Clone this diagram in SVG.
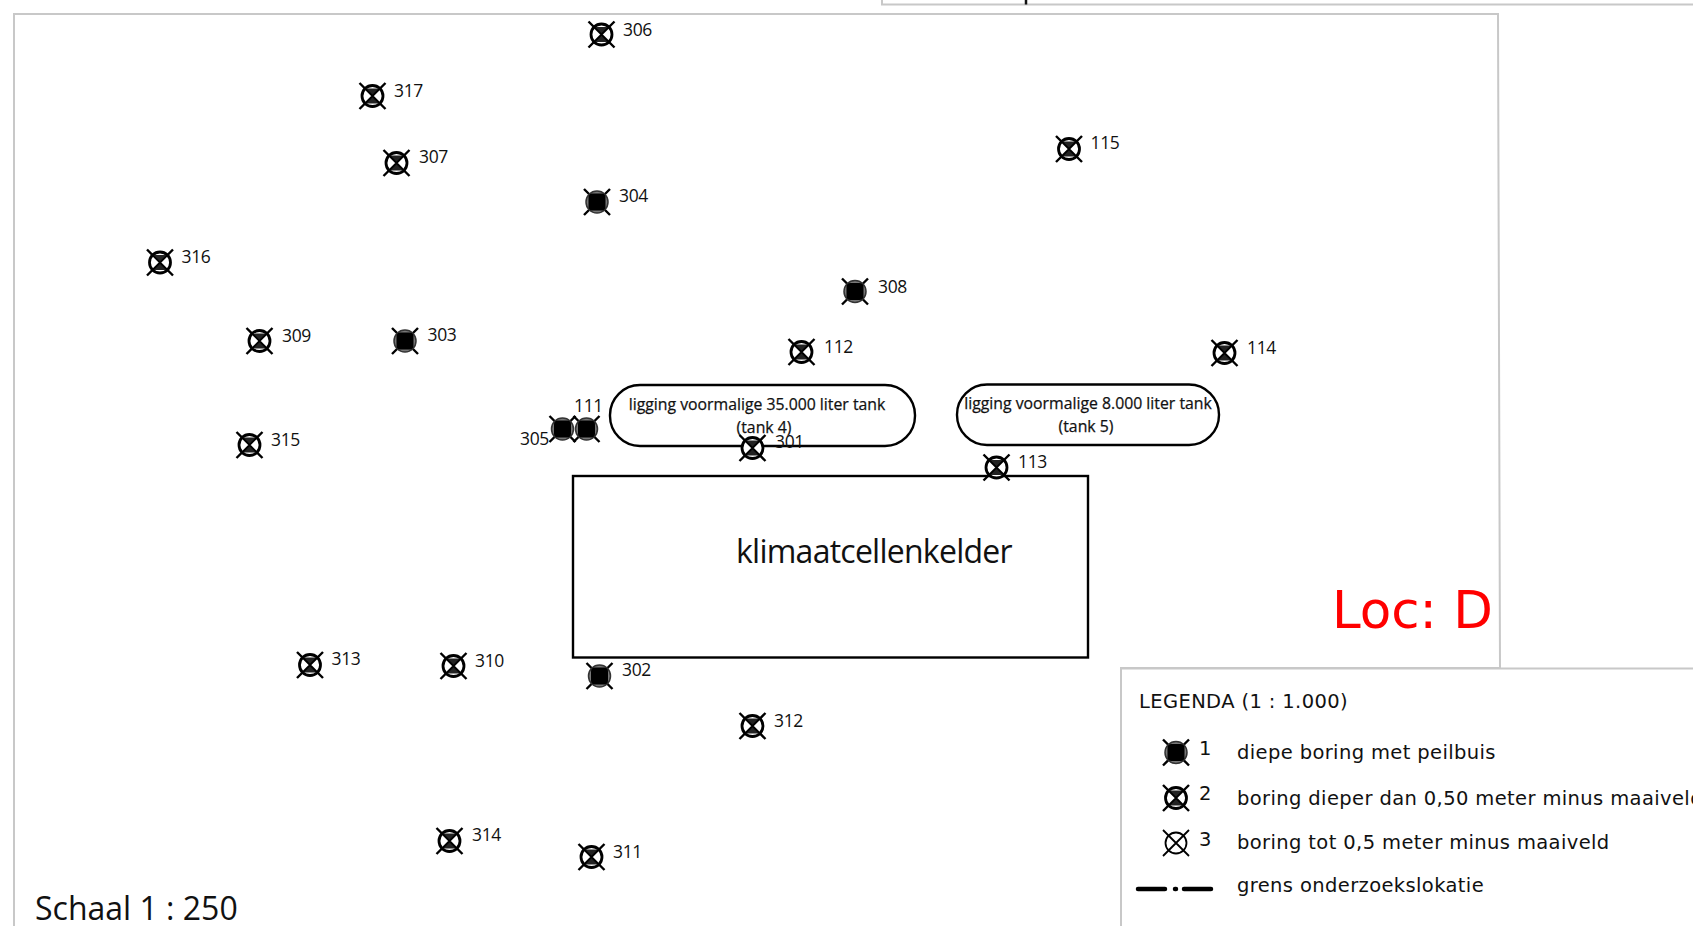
<svg xmlns="http://www.w3.org/2000/svg" width="1693" height="926" viewBox="0 0 1693 926">
<style>
text{font-family:"Open Sans","Noto Sans","Liberation Sans",sans-serif;fill:#111}
.lb{font-size:17.500px;letter-spacing:-.35px}
.tk{font-size:15.800px;text-anchor:middle;stroke:#111;stroke-width:.25}
.lg{letter-spacing:.38px;font-family:"DejaVu Sans",sans-serif;font-size:19.500px}
.fr{fill:none;stroke:#c8c8c8;stroke-width:2}
.x{stroke:#000;stroke-width:2.400;fill:none}
.sh{fill:none;stroke:#000;stroke-width:2.400}
</style>
<defs>
<g id="s1"><path class="x" d="M-13-13L13 13M-13 13L13-13"/><circle r="11" fill="#777" stroke="#333" stroke-width="1.500"/><rect x="-8.500" y="-8.500" width="17" height="17" rx="4" fill="#000"/></g>
<g id="s2"><path class="x" d="M-13-13L13 13M-13 13L13-13"/><circle r="10.500" fill="#fff" stroke="#000" stroke-width="2.800"/><path d="M-7.500-7.500H7.500L0 0L7.500 7.500H-7.500L0 0Z" fill="#222"/><path d="M-8-8L8 8M-8 8L8-8" stroke="#000" stroke-width="1.800"/></g>
<g id="s3"><circle r="10.500" fill="none" stroke="#000" stroke-width="1.800"/><path d="M-13-13L13 13M-13 13L13-13" stroke="#000" stroke-width="1.800"/></g>
</defs>
<g id="frame">
<path class="fr" d="M882 0V4.500H1693"/>
<path d="M1026 0v4.500" stroke="#111" stroke-width="2.500"/>
<path class="fr" d="M14 926V14H1498L1500 668H1121V926M1121 668.500H1693"/>
</g>
<g id="connectors"></g>
<g id="klimaatcellenkelder"><rect class="sh" x="573" y="476" width="515" height="181.500"/><text x="736" y="563" font-size="32" letter-spacing="-.75">klimaatcellenkelder</text></g>
<g id="tank4"><rect class="sh" x="610" y="385" width="305" height="61" rx="30" fill="#fff"/><text class="tk" x="757" y="410">ligging voormalige 35.000 liter tank</text><text class="tk" x="764" y="433">(tank 4)</text></g>
<g id="tank5"><rect class="sh" x="957" y="384.500" width="262" height="60.500" rx="30" fill="#fff"/><text class="tk" x="1088" y="409">ligging voormalige 8.000 liter tank</text><text class="tk" x="1086" y="432">(tank 5)</text></g>
<g id="b306"><use href="#s2" x="601.500" y="34.500"/><text class="lb" x="623" y="36">306</text></g>
<g id="b317"><use href="#s2" x="372.500" y="96"/><text class="lb" x="394" y="97">317</text></g>
<g id="b307"><use href="#s2" x="396.500" y="163"/><text class="lb" x="419" y="163">307</text></g>
<g id="b304"><use href="#s1" x="597" y="202"/><text class="lb" x="619" y="202">304</text></g>
<g id="b115"><use href="#s2" x="1069" y="149"/><text class="lb" x="1090.500" y="149">115</text></g>
<g id="b316"><use href="#s2" x="160" y="262.500"/><text class="lb" x="181.500" y="263">316</text></g>
<g id="b308"><use href="#s1" x="855" y="291.500"/><text class="lb" x="878" y="292.500">308</text></g>
<g id="b309"><use href="#s2" x="259.500" y="341"/><text class="lb" x="282" y="342">309</text></g>
<g id="b303"><use href="#s1" x="405" y="341"/><text class="lb" x="427.500" y="341">303</text></g>
<g id="b112"><use href="#s2" x="801.500" y="352"/><text class="lb" x="824" y="353">112</text></g>
<g id="b114"><use href="#s2" x="1224.500" y="353"/><text class="lb" x="1247" y="354">114</text></g>
<g id="b305"><use href="#s1" x="562.500" y="429"/><text class="lb" x="520" y="445">305</text></g>
<g id="b111"><use href="#s1" x="586.500" y="429"/><text class="lb" x="574" y="411.500">111</text></g>
<g id="b315"><use href="#s2" x="249.500" y="445"/><text class="lb" x="271" y="446">315</text></g>
<g id="b301"><use href="#s2" x="752.500" y="448"/><text class="lb" x="775" y="448">301</text></g>
<g id="b113"><use href="#s2" x="996.500" y="467.500"/><text class="lb" x="1018" y="468">113</text></g>
<g id="b313"><use href="#s2" x="310" y="665"/><text class="lb" x="331.500" y="665">313</text></g>
<g id="b310"><use href="#s2" x="453.500" y="666"/><text class="lb" x="475" y="666.500">310</text></g>
<g id="b302"><use href="#s1" x="599.500" y="676"/><text class="lb" x="622" y="676">302</text></g>
<g id="b312"><use href="#s2" x="752.500" y="726"/><text class="lb" x="774" y="727">312</text></g>
<g id="b314"><use href="#s2" x="449.500" y="841"/><text class="lb" x="472" y="841">314</text></g>
<g id="b311"><use href="#s2" x="591.500" y="857"/><text class="lb" x="613" y="857.500">311</text></g>
<g id="loc"><text x="1332" y="628" font-size="51.500" style="fill:#f00;font-family:'DejaVu Sans',sans-serif">Loc: D</text></g>
<g id="schaal"><text x="35" y="920" font-size="32">Schaal 1 : 250</text></g>
<g id="legenda">
<text class="lg" x="1139" y="708">LEGENDA (1 : 1.000)</text>
<use href="#s1" x="1176" y="752.500"/><text class="lg" x="1199" y="755">1</text><text class="lg" x="1237" y="759">diepe boring met peilbuis</text>
<use href="#s2" x="1176" y="798"/><text class="lg" x="1199" y="800">2</text><text class="lg" x="1237" y="805">boring dieper dan 0,50 meter minus maaiveld</text>
<use href="#s3" x="1176" y="843"/><text class="lg" x="1199" y="846">3</text><text class="lg" x="1237" y="849">boring tot 0,5 meter minus maaiveld</text>
<path d="M1138 889H1165M1175 889H1176M1184 889H1211" stroke="#000" stroke-width="4.500" stroke-linecap="round" fill="none"/>
<text class="lg" x="1237" y="892">grens onderzoekslokatie</text>
</g>
</svg>
